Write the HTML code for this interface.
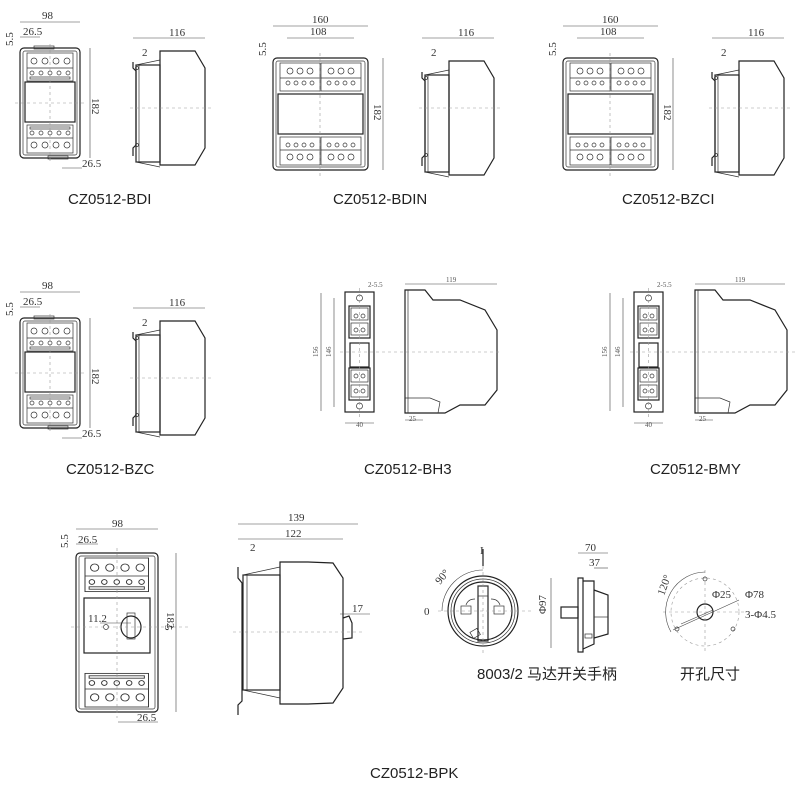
<!DOCTYPE html>
<html><head><meta charset="utf-8"><style>
html,body{margin:0;padding:0;background:#fff;}
svg{display:block;}
.l{fill:none;stroke:#222;stroke-width:1.2;}
.t{fill:none;stroke:#333;stroke-width:0.7;}
.c{fill:none;stroke:#999;stroke-width:0.6;stroke-dasharray:3 3;}
.d{fill:none;stroke:#444;stroke-width:0.6;}
.dt{font-family:"Liberation Serif",serif;font-size:11px;fill:#333;}
.sm{font-family:"Liberation Serif",serif;font-size:7px;fill:#555;}
.lb{font-family:"Liberation Sans","Noto Sans CJK SC",sans-serif;font-size:15px;fill:#222;}
</style></head><body>
<svg width="800" height="800" viewBox="0 0 800 800" xmlns="http://www.w3.org/2000/svg">
<defs>
<g id="tb4">
 <rect class="t" x="0" y="0" width="46" height="28"/>
 <circle class="t" cx="7" cy="8" r="3"/><circle class="t" cx="18" cy="8" r="3"/><circle class="t" cx="29" cy="8" r="3"/><circle class="t" cx="40" cy="8" r="3"/>
 <line class="t" x1="0" y1="15" x2="46" y2="15"/>
 <circle class="t" cx="5" cy="20" r="2"/><circle class="t" cx="14" cy="20" r="2"/><circle class="t" cx="23" cy="20" r="2"/><circle class="t" cx="32" cy="20" r="2"/><circle class="t" cx="41" cy="20" r="2"/>
 <rect class="t" x="3" y="24" width="40" height="2"/>
</g>
<g id="nf">
 <rect class="l" x="0" y="0" width="60" height="110" rx="4"/>
 <rect class="t" x="3" y="3" width="54" height="104" rx="2"/>
 <use href="#tb4" x="7" y="5"/>
 <rect class="l" x="5" y="34" width="50" height="40"/>
 <use href="#tb4" transform="translate(7,105) scale(1,-1)"/>
 <rect class="t" x="14" y="-2" width="20" height="3"/>
 <rect class="t" x="28" y="108" width="20" height="3"/>
</g>
<g id="ns">
 <path class="l" d="M0,14 L0,20 L3,23 L3,97 L0,100 L0,108"/>
 <rect class="l" x="3" y="17" width="24" height="97"/>
 <line class="t" x1="6" y1="17" x2="6" y2="114"/>
 <path class="t" d="M3,17 L27,12 M3,114 L27,119"/>
 <path class="l" d="M27,3 L62,3 L72,20 L72,100 L62,117 L27,117 Z"/>
 <circle class="t" cx="4" cy="20" r="1.5"/><circle class="t" cx="4" cy="97" r="1.5"/>
</g>
<g id="wf">
 <rect class="l" x="0" y="0" width="95" height="112" rx="4"/>
 <rect class="t" x="3" y="3" width="89" height="106" rx="2"/>
 <g transform="translate(7,5)">
  <rect class="t" x="0" y="0" width="40" height="28"/><rect class="t" x="41" y="0" width="40" height="28"/>
  <circle class="t" cx="10" cy="8" r="3"/><circle class="t" cx="20" cy="8" r="3"/><circle class="t" cx="30" cy="8" r="3"/>
  <circle class="t" cx="51" cy="8" r="3"/><circle class="t" cx="61" cy="8" r="3"/><circle class="t" cx="71" cy="8" r="3"/>
  <line class="t" x1="0" y1="15" x2="81" y2="15"/>
  <circle class="t" cx="8" cy="20" r="2"/><circle class="t" cx="16" cy="20" r="2"/><circle class="t" cx="24" cy="20" r="2"/><circle class="t" cx="32" cy="20" r="2"/>
  <circle class="t" cx="49" cy="20" r="2"/><circle class="t" cx="57" cy="20" r="2"/><circle class="t" cx="65" cy="20" r="2"/><circle class="t" cx="73" cy="20" r="2"/>
 </g>
 <rect class="l" x="5" y="36" width="85" height="40"/>
 <g transform="translate(7,107) scale(1,-1)">
  <rect class="t" x="0" y="0" width="40" height="28"/><rect class="t" x="41" y="0" width="40" height="28"/>
  <circle class="t" cx="10" cy="8" r="3"/><circle class="t" cx="20" cy="8" r="3"/><circle class="t" cx="30" cy="8" r="3"/>
  <circle class="t" cx="51" cy="8" r="3"/><circle class="t" cx="61" cy="8" r="3"/><circle class="t" cx="71" cy="8" r="3"/>
  <line class="t" x1="0" y1="15" x2="81" y2="15"/>
  <circle class="t" cx="8" cy="20" r="2"/><circle class="t" cx="16" cy="20" r="2"/><circle class="t" cx="24" cy="20" r="2"/><circle class="t" cx="32" cy="20" r="2"/>
  <circle class="t" cx="49" cy="20" r="2"/><circle class="t" cx="57" cy="20" r="2"/><circle class="t" cx="65" cy="20" r="2"/><circle class="t" cx="73" cy="20" r="2"/>
 </g>
 <line class="c" x1="47" y1="-5" x2="47" y2="118"/>
</g>
<g id="hf">
 <rect class="l" x="0" y="0" width="29" height="120"/>
 <circle class="t" cx="14.5" cy="6" r="3"/><circle class="t" cx="14.5" cy="114" r="3"/>
 <rect class="l" x="4" y="14" width="21" height="32"/>
 <rect class="t" x="6" y="16" width="17" height="12"/><rect class="t" x="6" y="31" width="17" height="12"/>
 <circle class="t" cx="11" cy="24" r="2"/><circle class="t" cx="18" cy="24" r="2"/><circle class="t" cx="11" cy="38" r="2"/><circle class="t" cx="18" cy="38" r="2"/>
 <rect class="l" x="5" y="51" width="19" height="24"/>
 <rect class="l" x="4" y="76" width="21" height="32"/>
 <rect class="t" x="6" y="78" width="17" height="12"/><rect class="t" x="6" y="93" width="17" height="12"/>
 <circle class="t" cx="11" cy="84" r="2"/><circle class="t" cx="18" cy="84" r="2"/><circle class="t" cx="11" cy="99" r="2"/><circle class="t" cx="18" cy="99" r="2"/>
 <line class="c" x1="14.5" y1="-4" x2="14.5" y2="126"/>
</g>
<g id="hs">
 <path class="l" d="M0,0 L20,0 L28,10 L55,10 L80,20 L92,40 L92,100 L80,115 L55,115 L40,123 L30,123 L0,123 Z"/>
 <line class="t" x1="3" y1="0" x2="3" y2="123"/>
 <path class="t" d="M0,108 L25,108 L35,112 L33,123" fill="#ddd"/>
</g>
<g id="dimN">
 <line class="d" x1="0" y1="-26" x2="60" y2="-26"/>
 <text class="dt" x="22" y="-29">98</text>
 <line class="d" x1="0" y1="-11" x2="20" y2="-11"/>
 <text class="dt" x="3" y="-13">26.5</text>
 <text class="dt" transform="translate(-7,-2) rotate(-90)">5.5</text>
 <line class="d" x1="70" y1="0" x2="70" y2="110"/>
 <text class="dt" transform="translate(72,50) rotate(90)">182</text>
 <line class="d" x1="42" y1="120" x2="62" y2="120"/>
 <text class="dt" x="62" y="119">26.5</text>
</g>
<g id="dimS">
 <line class="d" x1="0" y1="-10" x2="72" y2="-10"/>
 <text class="dt" x="36" y="-12">116</text>
 <text class="dt" x="9" y="8">2</text>
 <line class="c" x1="-3" y1="60" x2="80" y2="60"/>
</g>
</defs>

<use href="#nf" x="20" y="48"/><use href="#dimN" x="20" y="48"/>
<line class="c" x1="50" y1="44" x2="50" y2="162"/><line class="c" x1="15" y1="103" x2="85" y2="103"/>
<use href="#ns" x="133" y="48"/><use href="#dimS" x="133" y="48"/>
<text class="lb" x="68" y="204">CZ0512-BDI</text>

<use href="#wf" x="273" y="58"/>
<line class="d" x1="273" y1="26" x2="368" y2="26"/><text class="dt" x="312" y="23">160</text>
<line class="d" x1="287" y1="38" x2="354" y2="38"/><text class="dt" x="310" y="35">108</text>
<text class="dt" transform="translate(266,56) rotate(-90)">5.5</text>
<line class="d" x1="383" y1="58" x2="383" y2="170"/><text class="dt" transform="translate(374,104) rotate(90)">182</text>
<use href="#ns" x="422" y="58"/><use href="#dimS" x="422" y="48"/>
<text class="lb" x="333" y="204">CZ0512-BDIN</text>

<use href="#wf" x="563" y="58"/>
<line class="d" x1="563" y1="26" x2="658" y2="26"/><text class="dt" x="602" y="23">160</text>
<line class="d" x1="577" y1="38" x2="644" y2="38"/><text class="dt" x="600" y="35">108</text>
<text class="dt" transform="translate(556,56) rotate(-90)">5.5</text>
<line class="d" x1="673" y1="58" x2="673" y2="170"/><text class="dt" transform="translate(664,104) rotate(90)">182</text>
<use href="#ns" x="712" y="58"/><use href="#dimS" x="712" y="48"/>
<text class="lb" x="622" y="204">CZ0512-BZCI</text>

<use href="#nf" x="20" y="318"/><use href="#dimN" x="20" y="318"/>
<line class="c" x1="50" y1="314" x2="50" y2="432"/><line class="c" x1="15" y1="373" x2="85" y2="373"/>
<use href="#ns" x="133" y="318"/><use href="#dimS" x="133" y="318"/>
<text class="lb" x="66" y="474">CZ0512-BZC</text>

<use href="#hf" x="345" y="292"/>
<line class="d" x1="321" y1="293" x2="321" y2="411"/><text class="sm" transform="translate(318,357) rotate(-90)">156</text>
<line class="d" x1="334" y1="298" x2="334" y2="407"/><text class="sm" transform="translate(331,357) rotate(-90)">146</text>
<line class="d" x1="345" y1="423" x2="374" y2="423"/><text class="sm" x="356" y="427">40</text>
<text class="sm" x="368" y="287">2-5.5</text>
<use href="#hs" x="405" y="290"/>
<line class="d" x1="405" y1="284" x2="497" y2="284"/><text class="sm" x="446" y="282">119</text>
<line class="d" x1="405" y1="420" x2="423" y2="420"/><text class="sm" x="409" y="421">25</text>
<line class="c" x1="340" y1="352" x2="500" y2="352"/>
<text class="lb" x="364" y="474">CZ0512-BH3</text>

<use href="#hf" x="634" y="292"/>
<line class="d" x1="610" y1="293" x2="610" y2="411"/><text class="sm" transform="translate(607,357) rotate(-90)">156</text>
<line class="d" x1="623" y1="298" x2="623" y2="407"/><text class="sm" transform="translate(620,357) rotate(-90)">146</text>
<line class="d" x1="634" y1="423" x2="663" y2="423"/><text class="sm" x="645" y="427">40</text>
<text class="sm" x="657" y="287">2-5.5</text>
<use href="#hs" x="695" y="290"/>
<line class="d" x1="695" y1="284" x2="785" y2="284"/><text class="sm" x="735" y="282">119</text>
<line class="d" x1="695" y1="420" x2="713" y2="420"/><text class="sm" x="699" y="421">25</text>
<line class="c" x1="630" y1="352" x2="795" y2="352"/>
<text class="lb" x="650" y="474">CZ0512-BMY</text>

<g transform="translate(76,553)">
 <rect class="l" x="0" y="0" width="82" height="159" rx="4"/>
 <rect class="t" x="3" y="3" width="76" height="153" rx="2"/>
 <g transform="translate(9,5) scale(1.38,1.2)"><use href="#tb4"/></g>
 <rect class="l" x="8" y="45" width="66" height="55"/>
 <g transform="translate(9,154) scale(1.38,-1.2)"><use href="#tb4"/></g>
 <ellipse class="l" cx="55" cy="74" rx="10" ry="11"/>
 <rect class="t" x="51" y="60" width="8" height="26"/>
 <circle class="t" cx="30" cy="74" r="2.5"/>
 <line class="c" x1="41" y1="-5" x2="41" y2="165"/><line class="c" x1="-5" y1="74" x2="115" y2="74"/>
</g>
<line class="d" x1="76" y1="529" x2="158" y2="529"/><text class="dt" x="112" y="527">98</text>
<line class="d" x1="76" y1="544" x2="98" y2="544"/><text class="dt" x="78" y="543">26.5</text>
<text class="dt" transform="translate(68,548) rotate(-90)">5.5</text>
<line class="d" x1="176" y1="553" x2="176" y2="712"/><text class="dt" transform="translate(167,612) rotate(90)">182</text>
<line class="d" x1="118" y1="722" x2="158" y2="722"/><text class="dt" x="137" y="721">26.5</text>
<text class="dt" x="88" y="622">11.2</text><line class="d" x1="100" y1="623" x2="131" y2="623"/>
<text class="dt" transform="translate(165,625) rotate(90)">5</text>

<g transform="translate(238,553)">
 <path class="l" d="M0,14 L0,25 L4,30 L4,148 L0,152 L0,162"/>
 <rect class="l" x="5" y="22" width="37" height="115"/>
 <line class="t" x1="9" y1="22" x2="9" y2="137"/>
 <path class="t" d="M5,22 L42,14 M5,137 L42,145"/>
 <path class="l" d="M42,9 L70,9 L95,10 L105,25 L105,135 L95,150 L70,151 L42,151 Z"/>
 <path class="l" d="M105,65 L111,63 L114,70 L114,85 L105,86"/>
 <line class="c" x1="-5" y1="79" x2="125" y2="79"/>
</g>
<line class="d" x1="238" y1="524" x2="358" y2="524"/><text class="dt" x="288" y="521">139</text>
<line class="d" x1="238" y1="539" x2="343" y2="539"/><text class="dt" x="285" y="537">122</text>
<text class="dt" x="250" y="551">2</text>
<line class="d" x1="340" y1="614" x2="370" y2="614"/><text class="dt" x="352" y="612">17</text>
<text class="lb" x="370" y="778">CZ0512-BPK</text>

<g transform="translate(483,611)">
 <circle class="l" cx="0" cy="0" r="35"/><circle class="t" cx="0" cy="0" r="32"/><circle class="l" cx="0" cy="0" r="29"/>
 <rect class="l" x="-5" y="-25" width="10" height="55"/><rect class="t" x="-5" y="-25" width="10" height="10"/>
 <rect class="t" x="-22" y="-5" width="10" height="8"/><rect class="t" x="11" y="-5" width="10" height="8"/>
 <path class="t" d="M-8,-12 Q-15,-12 -17,-6 M8,-12 Q15,-12 17,-6"/>
 <rect class="t" x="-22" y="12" width="8" height="7" transform="rotate(-30)"/>
 <line class="c" x1="-45" y1="0" x2="50" y2="0"/><line class="c" x1="0" y1="-45" x2="0" y2="45"/>
 <path class="d" d="M0,-41 A41 41 0 0 0 -41,0"/>
 <line class="l" x1="0" y1="-62" x2="0" y2="-45"/>
</g>
<text class="dt" x="424" y="615">0</text>
<text class="dt" transform="translate(440,585) rotate(-50)">90°</text>
<text class="dt" x="480" y="554">I</text>

<g transform="translate(549,572)">
 <line class="d" x1="2" y1="6" x2="2" y2="76"/>
 <rect class="l" x="12" y="35" width="17" height="11"/>
 <rect class="l" x="29" y="6" width="5" height="74"/>
 <path class="l" d="M34,9 L45,9 L45,72 L34,77"/>
 <path class="l" d="M45,18 L59,23 L59,62 L45,66"/>
 <line class="t" x1="45" y1="45" x2="59" y2="45"/>
 <rect class="t" x="36" y="62" width="7" height="4"/>
</g>
<line class="d" x1="578" y1="553" x2="608" y2="553"/><text class="dt" x="585" y="551">70</text>
<line class="d" x1="594" y1="568" x2="608" y2="568"/><text class="dt" x="589" y="566">37</text>
<text class="dt" transform="translate(546,614) rotate(-90)">Φ97</text>
<text class="lb" x="477" y="679">8003/2 马达开关手柄</text>

<g transform="translate(705,612)">
 <circle class="c" cx="0" cy="0" r="34"/>
 <circle class="l" cx="0" cy="0" r="8"/>
 <circle class="t" cx="0" cy="-33" r="2"/><circle class="t" cx="-28" cy="17" r="2"/><circle class="t" cx="28" cy="17" r="2"/>
 <line class="c" x1="-42" y1="0" x2="42" y2="0"/><line class="c" x1="0" y1="-42" x2="0" y2="42"/>
 <line class="d" x1="-32" y1="18" x2="34" y2="-12"/><line class="d" x1="-24" y1="12" x2="8" y2="-2"/>
 <path class="d" d="M0,-40 A40 40 0 0 0 -34,20"/>
</g>
<text class="dt" x="712" y="598">Φ25</text><text class="dt" x="745" y="598">Φ78</text>
<text class="dt" x="745" y="618">3-Φ4.5</text>
<text class="dt" transform="translate(664,596) rotate(-70)">120°</text>
<text class="lb" x="680" y="679">开孔尺寸</text>
</svg>
</body></html>
